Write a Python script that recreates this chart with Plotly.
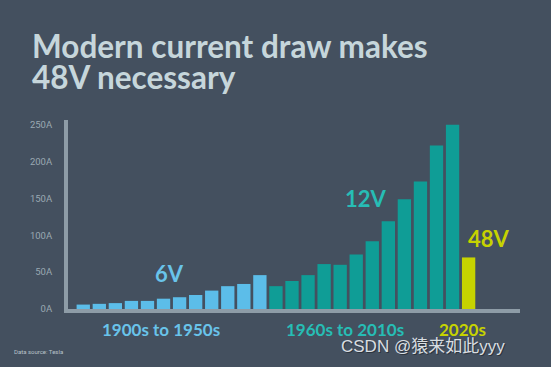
import plotly.graph_objects as go

# Data (amps per decade)
blue_vals = [6, 7, 8, 11, 11, 14, 16, 19, 25, 31, 34, 46]          # 6V era
teal_vals = [31, 38, 46, 61, 60, 74, 92, 119, 149, 173, 222, 250]  # 12V era
yellow_vals = [70]                                                 # 48V
y_ticks = [0, 50, 100, 150, 200, 250]
y_tick_labels = ["0A", "50A", "100A", "150A", "200A", "250A"]

BG = "#44505f"
BLUE = "#5cbde9"
TEAL = "#0f9d96"
YEL = "#c6d300"
AXIS = "#8e9ca7"

nb, nt = len(blue_vals), len(teal_vals)
xb = list(range(nb))
xt = list(range(nb, nb + nt))
xy = list(range(nb + nt, nb + nt + len(yellow_vals)))

fig = go.Figure()
fig.add_bar(x=xb, y=blue_vals, marker_color=BLUE, marker_line_width=0, width=0.83)
fig.add_bar(x=xt, y=teal_vals, marker_color=TEAL, marker_line_width=0, width=0.83)
fig.add_bar(x=xy, y=yellow_vals, marker_color=YEL, marker_line_width=0, width=0.83)

fig.update_layout(
    width=551, height=367,
    paper_bgcolor=BG, plot_bgcolor=BG,
    showlegend=False,
    barmode="overlay",
    margin=dict(l=68, r=31, t=120, b=58),
    xaxis=dict(range=[-0.95, 27.2], showgrid=False, zeroline=False,
               showticklabels=False, showline=True, linecolor=AXIS, linewidth=4,
               fixedrange=True),
    yaxis=dict(range=[0, 256.6], showgrid=False, zeroline=False,
               tickvals=y_ticks, ticktext=y_tick_labels,
               ticks="outside", ticklen=10, tickcolor="rgba(0,0,0,0)",
               tickfont=dict(family="Roboto", size=9.5, color="#9aa8b2"),
               showline=True, linecolor=AXIS, linewidth=4, fixedrange=True),
    font=dict(family="Lato, Open Sans, sans-serif"),
)

title_font = dict(family="Lato", size=31.5, color="#c6d6db")
fig.add_annotation(text="<b>Modern current draw makes</b>", xref="paper", yref="paper",
                   x=-0.083, y=1.0, xanchor="left", yanchor="middle", showarrow=False,
                   font=title_font, yshift=74)
fig.add_annotation(text="<b>48V necessary</b>", xref="paper", yref="paper",
                   x=-0.083, y=1.0, xanchor="left", yanchor="middle", showarrow=False,
                   font=title_font, yshift=43)

lab_font = lambda c, s: dict(family="Lato", size=s, color=c)
fig.add_annotation(text="<b>6V</b>", x=5.4, y=48, xref="x", yref="y", showarrow=False,
                   font=lab_font("#69c3ea", 22))
fig.add_annotation(text="<b>12V</b>", x=17.6, y=150, xref="x", yref="y", showarrow=False,
                   font=lab_font("#27bdb5", 22))
fig.add_annotation(text="<b>48V</b>", x=25.3, y=96, xref="x", yref="y", showarrow=False,
                   font=lab_font(YEL, 22))

fig.add_annotation(text="<b>1900s to 1950s</b>", x=4.85, y=0, xref="x", yref="paper",
                   yanchor="middle", yshift=-20, showarrow=False, font=lab_font("#69c3ea", 17))
fig.add_annotation(text="<b>1960s to 2010s</b>", x=16.3, y=0, xref="x", yref="paper",
                   yanchor="middle", yshift=-20, showarrow=False, font=lab_font("#27bdb5", 17))
fig.add_annotation(text="<b>2020s</b>", x=23.6, y=0, xref="x", yref="paper",
                   yanchor="middle", yshift=-20, showarrow=False, font=lab_font(YEL, 17))

fig.add_annotation(text="Data source: Tesla", xref="paper", yref="paper", x=-0.124, y=0,
                   xanchor="left", yanchor="middle", yshift=-42, showarrow=False,
                   font=dict(family="Roboto", size=6, color="#b9c3ca"))
# watermark with a faint dark shadow
fig.add_annotation(text="CSDN @猿来如此yyy", xref="paper", yref="paper", x=1.0, y=0,
                   xanchor="right", yanchor="middle", yshift=-38, xshift=-12, showarrow=False,
                   font=dict(family="Liberation Sans, Noto Sans CJK SC", size=17, color="#2c343e"))
fig.add_annotation(text="CSDN @猿来如此yyy", xref="paper", yref="paper", x=1.0, y=0,
                   xanchor="right", yanchor="middle", yshift=-37, xshift=-13, showarrow=False,
                   font=dict(family="Liberation Sans, Noto Sans CJK SC", size=17, color="#d9dee2"))

fig.write_html("out.html", post_script="document.body.style.margin='0px';",
               config={"displayModeBar": False})
